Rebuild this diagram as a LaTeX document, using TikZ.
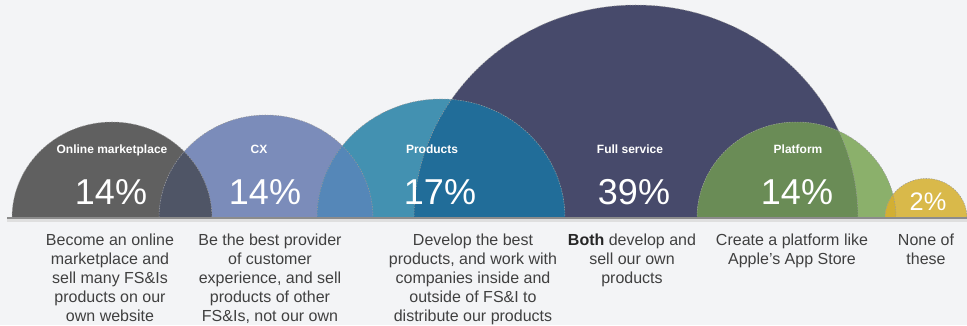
\documentclass[tikz,border=0pt]{standalone}
\usepackage{fontspec}
\setmainfont{Liberation Sans}

\definecolor{bg}{HTML}{F3F4F6}
\definecolor{cgray}{HTML}{606060}
\definecolor{ccx}{HTML}{7B8CBA}
\definecolor{cprod}{HTML}{4391B1}
\definecolor{cfull}{HTML}{474A6B}
\definecolor{cplat}{HTML}{8BB06B}
\definecolor{cgold}{HTML}{D9B94A}
\definecolor{cgraycx}{HTML}{4F5566}
\definecolor{ccxprod}{HTML}{5587B8}
\definecolor{cprodfull}{HTML}{216D99}
\definecolor{cfullplat}{HTML}{6A8C56}
\definecolor{cplatgold}{HTML}{D2AF33}
\definecolor{cbase}{HTML}{8C8C8C}
\definecolor{desctext}{HTML}{404040}

\begin{document}
\begin{tikzpicture}[x=0.75pt,y=-0.75pt,
  lbl/.style={text=white,font=\fontsize{9}{10}\selectfont\bfseries,anchor=base,inner sep=0pt},
  pct/.style={text=white,font=\fontsize{27}{30}\selectfont,anchor=base,inner sep=0pt},
  desc/.style={text=desctext,font=\fontsize{12}{14.25}\selectfont,align=center,anchor=north,inner sep=0pt},
  rim/.style={draw=gray!80,line width=0.4pt,dash pattern=on 1pt off 1pt}]
\fill[bg] (0,0) rectangle (967,325);
\useasboundingbox (0,0) rectangle (967,325);

% half discs on the base line
\begin{scope}
\clip (0,0) rectangle (967,218);
\fill[cfull] (636,218) ellipse [x radius=222,y radius=213];
\fill[cgray] (112,218) ellipse [x radius=100,y radius=96];
\fill[ccx] (266,218) ellipse [x radius=107,y radius=103];
\fill[cprod] (441,218) ellipse [x radius=124,y radius=119];
\fill[cplat] (796.5,218) ellipse [x radius=99.5,y radius=96];
\fill[cgold] (926,218) ellipse [x radius=41,y radius=39.5];

% overlaps
\begin{scope}
\clip (112,218) ellipse [x radius=100,y radius=96];
\fill[cgraycx] (266,218) ellipse [x radius=107,y radius=103];
\end{scope}
\begin{scope}
\clip (266,218) ellipse [x radius=107,y radius=103];
\fill[ccxprod] (441,218) ellipse [x radius=124,y radius=119];
\end{scope}
\begin{scope}
\clip (636,218) ellipse [x radius=222,y radius=213];
\fill[cprodfull] (441,218) ellipse [x radius=124,y radius=119];
\fill[cfullplat] (796.5,218) ellipse [x radius=99.5,y radius=96];
\end{scope}
\begin{scope}
\clip (796.5,218) ellipse [x radius=99.5,y radius=96];
\fill[cplatgold] (926,218) ellipse [x radius=41,y radius=39.5];
\end{scope}

% dashed rims
\draw[rim] (636,218) ellipse [x radius=222,y radius=213];
\draw[rim] (112,218) ellipse [x radius=100,y radius=96];
\draw[rim] (266,218) ellipse [x radius=107,y radius=103];
\draw[rim] (441,218) ellipse [x radius=124,y radius=119];
\draw[rim] (796.5,218) ellipse [x radius=99.5,y radius=96];
\draw[rim] (926,218) ellipse [x radius=41,y radius=39.5];
\end{scope}

% base line
\draw[gray!25,line width=2pt] (7,220.5) -- (967,220.5);
\draw[cbase,line width=1pt] (7,218) -- (967,218);

% titles
\node[lbl] (online) at (112,153) {Online marketplace};
\node[lbl] (cx) at (259,153) {CX};
\node[lbl] (products) at (432,153) {Products};
\node[lbl] (fullservice) at (630,153) {Full service};
\node[lbl] (platform) at (798,153) {Platform};

% shares
\node[pct] (online-pct) at (111,204) {14\%};
\node[pct] (cx-pct) at (265,204) {14\%};
\node[pct] (products-pct) at (440,204) {17\%};
\node[pct] (fullservice-pct) at (634,204) {39\%};
\node[pct] (platform-pct) at (797,204) {14\%};
\node[pct,font=\fontsize{19}{21}\selectfont] (none-pct) at (928,210) {2\%};

% answers
\node[desc] (online-desc) at (110,233.5) {Become an online\\marketplace and\\sell many FS\&Is\\products on our\\own website};
\node[desc] (cx-desc) at (270,233.5) {Be the best provider\\of customer\\experience, and sell\\products of other\\FS\&Is, not our own};
\node[desc] (products-desc) at (473,233.5) {Develop the best\\products, and work with\\companies inside and\\outside of FS\&I to\\distribute our products};
\node[desc] (fullservice-desc) at (632,233.5) {{\color{black!85}\bfseries Both} develop and\\sell our own\\products};
\node[desc] (platform-desc) at (792,233.5) {Create a platform like\\Apple’s App Store};
\node[desc] (none-desc) at (926,233.5) {None of\\these};
\end{tikzpicture}
\end{document}
